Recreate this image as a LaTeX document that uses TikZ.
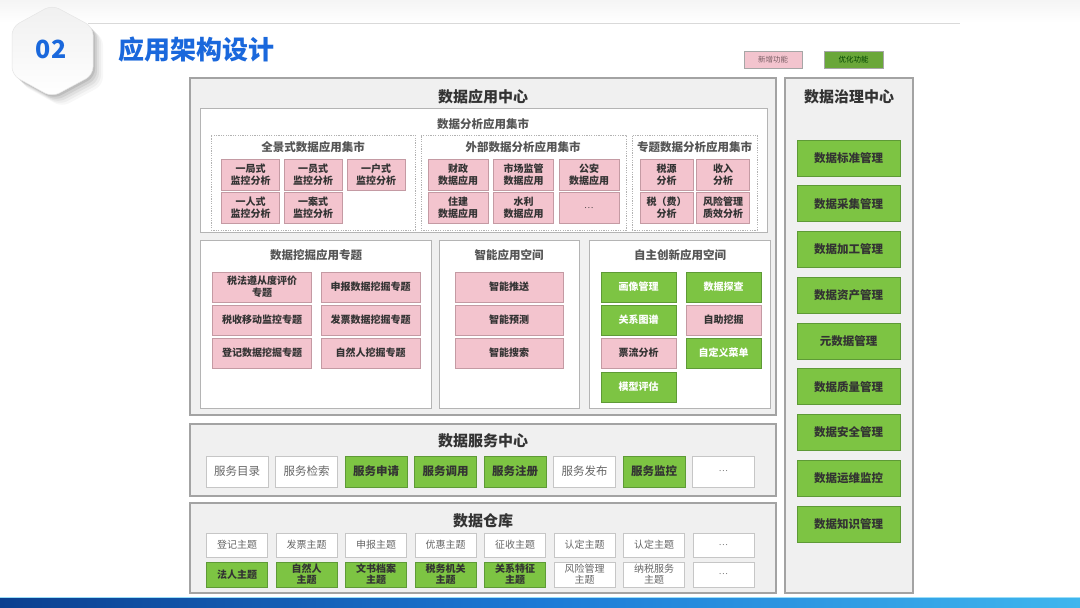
\documentclass[tikz,border=0pt]{standalone}
\usepackage{fontspec}
\setmainfont{Noto Sans CJK SC}
\definecolor{pinkfill}{HTML}{F3C4CE}
\definecolor{pinkline}{HTML}{C49AA3}
\definecolor{greenfill}{HTML}{7DC443}
\definecolor{greenline}{HTML}{5E9A36}
\definecolor{panelfill}{HTML}{F0F0F0}
\definecolor{panelline}{HTML}{A3A3A3}
\definecolor{subline}{HTML}{B4B4B4}
\definecolor{inkdark}{HTML}{333333}
\definecolor{inkgray}{HTML}{555555}
\definecolor{titleblue}{HTML}{1A68DC}
\definecolor{banddark}{HTML}{0B3F8F}
\definecolor{bandmid}{HTML}{1C7AD6}
\definecolor{bandlight}{HTML}{3FB6EE}
\newcommand{\moredots}{{\mdseries\fontsize{8}{9}\selectfont .\kern1pt.\kern1pt.}}
\begin{document}
\begin{tikzpicture}[x=1pt,y=-1pt,
    panel/.style={draw=panelline,fill=panelfill,line width=1.2pt,inner sep=0pt},
    subpanel/.style={draw=subline,fill=white,line width=0.8pt,inner sep=0pt},
    dashpanel/.style={draw=gray!60,dash pattern=on 1.2pt off 1.2pt,line width=0.6pt,inner sep=0pt},
    head/.style={font=\fontsize{15}{18}\bfseries\selectfont,text=inkdark},
    subhead/.style={font=\fontsize{11.5}{14}\bfseries\selectfont,text=inkgray},
    cell/.style={inner sep=0pt,align=center,line width=0.6pt,font=\fontsize{10}{12}\bfseries\selectfont},
    pinkbox/.style={cell,draw=pinkline,fill=pinkfill,text=inkdark},
    greenbox/.style={cell,draw=greenline,fill=greenfill,text=inkdark},
    greenwhite/.style={greenbox,text=white},
    plainbox/.style={cell,draw=gray!45,fill=white,text=gray!80!black,font=\fontsize{10}{12}\selectfont},
    svcgreen/.style={greenbox,font=\fontsize{11.5}{14}\bfseries\selectfont},
    svcplain/.style={plainbox,font=\fontsize{11.5}{14}\selectfont},
    govbox/.style={greenbox,font=\fontsize{11.5}{14}\bfseries\selectfont},
    whgreen/.style={greenbox,font=\fontsize{10}{11}\bfseries\selectfont},
    whplain/.style={plainbox,font=\fontsize{10}{11}\selectfont},
    legendbox/.style={cell,line width=0.8pt,font=\fontsize{7.5}{9}\selectfont}
  ]
  \useasboundingbox (0,0) rectangle (1080,608);
  \fill[white] (0,0) rectangle (1080,608);
  \shade[top color=gray!8,bottom color=white] (0,0) rectangle (1080,23);

  \draw[gray!30,line width=1pt] (88,23) -- (960,23);
  \foreach \o/\a in {10/0.03,8/0.04,6/0.05,4/0.07,2/0.09}
    \fill[black,opacity=\a,rounded corners=8pt]
      (52+\o,5+\o) -- (93+\o,27+\o) -- (93+\o,75+\o) -- (52+\o,97+\o) -- (12+\o,75+\o) -- (12+\o,27+\o) -- cycle;
  \shade[top color=gray!12,bottom color=white,draw=gray!20,line width=0.5pt,rounded corners=8pt]
    (52,5) -- (93,27) -- (93,75) -- (52,97) -- (12,75) -- (12,27) -- cycle;
  \node[text=titleblue,font=\fontsize{25}{28}\bfseries\selectfont] (num) at (51,49) {02};
  \node[text=titleblue,font=\fontsize{26}{30}\bfseries\selectfont] (title) at (196,50) {应用架构设计};

  \node[legendbox,draw=gray!70,fill=pinkfill,text=pinkline!60!black,minimum width=58,minimum height=17] (newfn) at (773,59.5) {新增功能};
  \node[legendbox,draw=gray!70,fill=greenfill!85!black,text=green!25!black,minimum width=59,minimum height=17] (optfn) at (853.5,59.5) {优化功能};

  \node[panel,minimum width=586,minimum height=337] (appc) at (483,246.5) {};
  \path (483,97) node[head] (appct) {数据应用中心};
  \node[subpanel,minimum width=567,minimum height=124] (mart) at (483.5,170) {};
  \path (483,124) node[subhead] (martt) {数据分析应用集市};

  \node[dashpanel,minimum width=204,minimum height=95] (qj) at (313,182.5) {};
  \path (313,147) node[subhead] (qjt) {全景式数据应用集市};
  \foreach \n/\x/\y/\t in {1/250.5/175/{一局式\\监控分析},2/313/175/{一员式\\监控分析},3/376/175/{一户式\\监控分析},
                           4/250.5/208/{一人式\\监控分析},5/313/208/{一案式\\监控分析}}
    \node[pinkbox,minimum width=58,minimum height=31] (qj\n) at (\x,\y) {\t};

  \node[dashpanel,minimum width=205,minimum height=95] (wb) at (523.5,182.5) {};
  \path (523,147) node[subhead] (wbt) {外部数据分析应用集市};
  \foreach \n/\x/\y/\t in {1/458/175/{财政\\数据应用},2/523.5/175/{市场监管\\数据应用},3/589/175/{公安\\数据应用},
                           4/458/208/{住建\\数据应用},5/523.5/208/{水利\\数据应用},6/589/208/\moredots}
    \node[pinkbox,minimum width=60,minimum height=31] (wb\n) at (\x,\y) {\t};

  \node[dashpanel,minimum width=125,minimum height=95] (zt) at (694.5,182.5) {};
  \path (694.5,147) node[subhead] (ztt) {专题数据分析应用集市};
  \foreach \n/\x/\y/\t in {1/666.5/175/{税源\\分析},2/723/175/{收入\\分析},
                           3/666.5/208/{税（费）\\分析},4/723/208/{风险管理\\质效分析}}
    \node[pinkbox,minimum width=53,minimum height=31] (zt\n) at (\x,\y) {\t};

  \node[subpanel,minimum width=231,minimum height=168] (wj) at (315.5,324) {};
  \path (316,255) node[subhead] (wjt) {数据挖掘应用专题};
  \foreach \n/\x/\y/\t in {1/262/287/{税法遵从度评价\\专题},2/370.5/287/申报数据挖掘专题,
                           3/262/320/税收移动监控专题,4/370.5/320/发票数据挖掘专题,
                           5/262/353/登记数据挖掘专题,6/370.5/353/自然人挖掘专题}
    \node[pinkbox,minimum width=99,minimum height=30] (wj\n) at (\x,\y) {\t};

  \node[subpanel,minimum width=140,minimum height=168] (zn) at (509,324) {};
  \path (509,255) node[subhead] (znt) {智能应用空间};
  \foreach \n/\y/\t in {1/287/智能推送,2/320/智能预测,3/353/智能搜索}
    \node[pinkbox,minimum width=108,minimum height=30] (zn\n) at (509,\y) {\t};

  \node[subpanel,minimum width=181,minimum height=168] (zz) at (679.5,324) {};
  \path (680,255) node[subhead] (zzt) {自主创新应用空间};
  \foreach \n/\x/\y/\s/\t in {1/638.5/287/greenwhite/画像管理,2/723.5/287/greenwhite/数据探查,
                              3/638.5/320/greenwhite/关系图谱,4/723.5/320/pinkbox/自助挖掘,
                              5/638.5/353/pinkbox/票流分析,6/723.5/353/greenwhite/自定义菜单,
                              7/638.5/387/greenwhite/模型评估}
    \node[\s,minimum width=75,minimum height=30] (zz\n) at (\x,\y) {\t};

  \node[panel,minimum width=128,minimum height=515] (gov) at (849,335.5) {};
  \path (849,97) node[head] (govt) {数据治理中心};
  \foreach \t [count=\n from 0] in {数据标准管理,数据采集管理,数据加工管理,数据资产管理,元数据管理,
                                    数据质量管理,数据安全管理,数据运维监控,数据知识管理}
    \node[govbox,minimum width=103,minimum height=36] (gov\n) at (848.5,{158+45.75*\n}) {\t};

  \node[panel,minimum width=586,minimum height=72] (svc) at (483,460) {};
  \path (483,441) node[head] (svct) {数据服务中心};
  \foreach \s/\t [count=\n from 0] in {svcplain/服务目录,svcplain/服务检索,svcgreen/服务申请,svcgreen/服务调用,
                                       svcgreen/服务注册,svcplain/服务发布,svcgreen/服务监控,svcplain/\moredots}
    \node[\s,minimum width=62,minimum height=31] (svc\n) at ({237+69.5*\n},471.5) {\t};

  \node[panel,minimum width=586,minimum height=90] (dw) at (483,548) {};
  \path (483,521) node[head] (dwt) {数据仓库};
  \foreach \t [count=\n from 0] in {登记主题,发票主题,申报主题,优惠主题,征收主题,认定主题,认定主题,\moredots}
    \node[whplain,minimum width=61,minimum height=24] (dwa\n) at ({237+69.5*\n},545) {\t};
  \foreach \s/\t [count=\n from 0] in {whgreen/法人主题,whgreen/{自然人\\主题},whgreen/{文书档案\\主题},whgreen/{税务机关\\主题},
                                       whgreen/{关系特征\\主题},whplain/{风险管理\\主题},whplain/{纳税服务\\主题},whplain/\moredots}
    \node[\s,minimum width=61,minimum height=25] (dwb\n) at ({237+69.5*\n},574.5) {\t};

  \shade[left color=banddark,right color=bandlight,middle color=bandmid] (0,597) rectangle (1080,608);
  \draw[cyan!40,line width=0.8pt] (0,597) -- (1080,597);
\end{tikzpicture}
\end{document}
